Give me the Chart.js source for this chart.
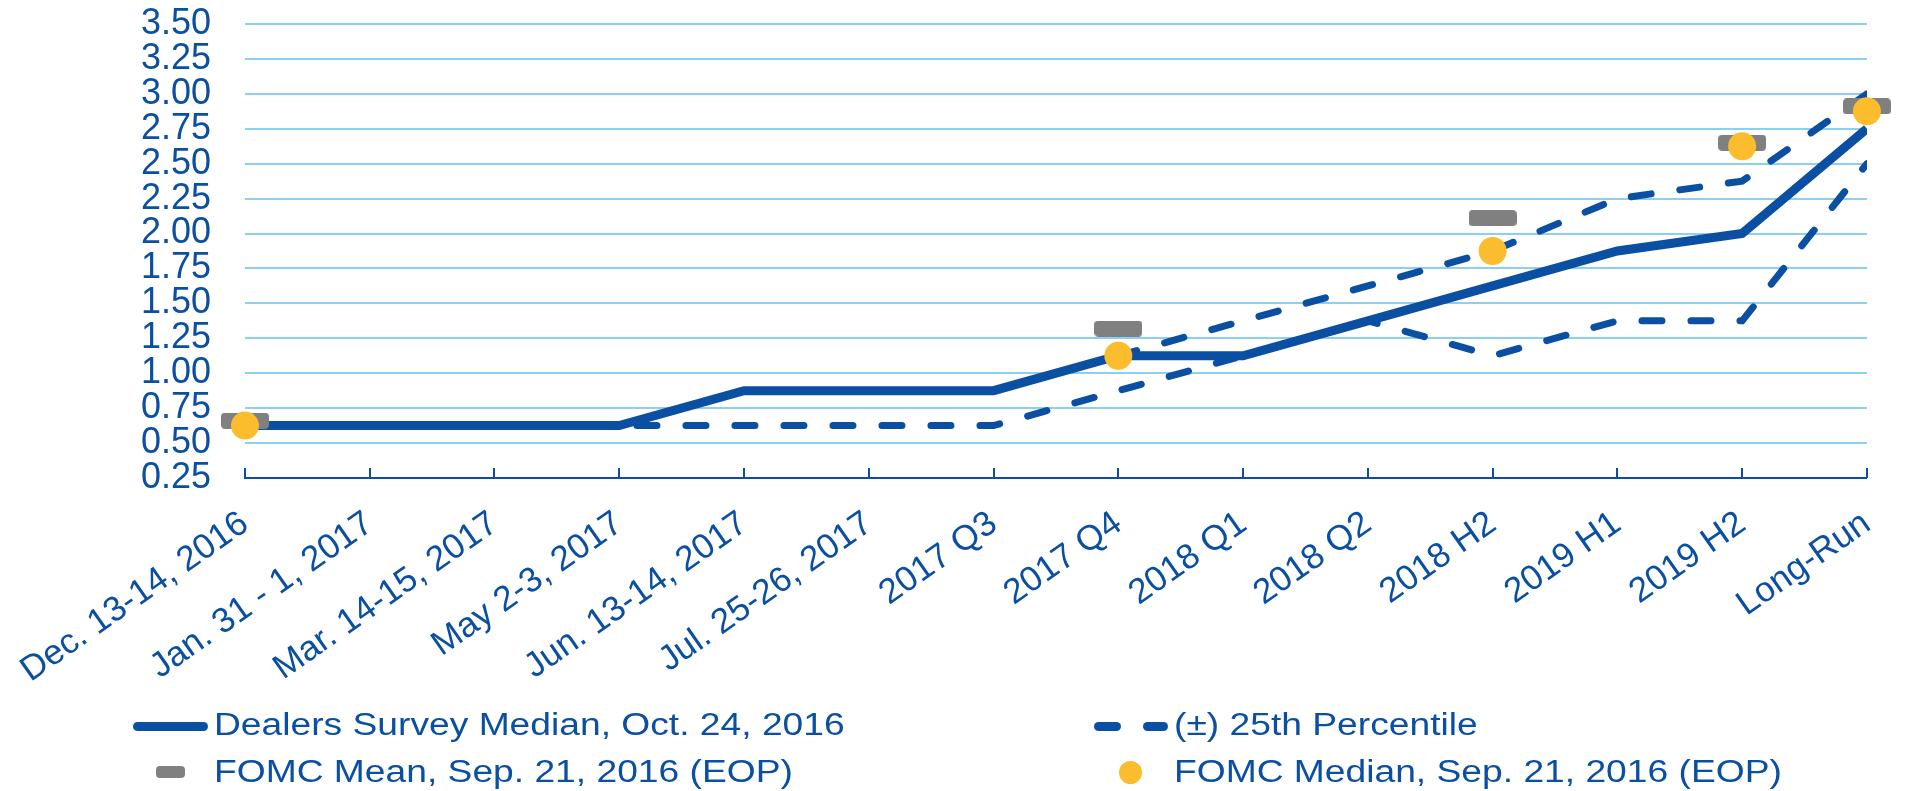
<!DOCTYPE html>
<html><head><meta charset="utf-8">
<script src="https://cdn.jsdelivr.net/npm/chart.js@4.4.0/dist/chart.umd.min.js"></script>
<style>
html,body{margin:0;padding:0;background:#fff;}
#wrap{position:relative;width:1916px;height:791px;overflow:hidden;background:#fff;}
#c{position:absolute;left:0;top:0;}
.lg{position:absolute;font-family:'Liberation Sans',Arial,sans-serif;font-size:31px;line-height:31px;color:#0B4FA2;white-space:nowrap;transform:scaleX(1.2);transform-origin:0 0;}
.sym{position:absolute;}
</style></head><body>
<div id="wrap">
<canvas id="c" width="1916" height="791"></canvas>
<div class="sym" style="left:133px;top:722px;width:75px;height:9px;border-radius:5px;background:#0B4FA2"></div>
<span class="lg" style="left:214px;top:709px">Dealers Survey Median, Oct. 24, 2016</span>
<div class="sym" style="left:1094px;top:722px;width:27px;height:9px;border-radius:5px;background:#0B4FA2"></div>
<div class="sym" style="left:1143px;top:722px;width:25px;height:9px;border-radius:5px;background:#0B4FA2"></div>
<span class="lg" style="left:1174px;top:709px">(±) 25th Percentile</span>
<div class="sym" style="left:156px;top:766px;width:29px;height:12px;border-radius:4px;background:#808080"></div>
<span class="lg" style="left:214px;top:756px">FOMC Mean, Sep. 21, 2016 (EOP)</span>
<div class="sym" style="left:1119px;top:761px;width:23px;height:23px;border-radius:50%;background:#FBBC2D"></div>
<span class="lg" style="left:1174px;top:756px">FOMC Median, Sep. 21, 2016 (EOP)</span>
</div>
<script>
const categories = ['Dec. 13-14, 2016','Jan. 31 - 1, 2017','Mar. 14-15, 2017','May 2-3, 2017','Jun. 13-14, 2017','Jul. 25-26, 2017','2017 Q3','2017 Q4','2018 Q1','2018 Q2','2018 H2','2019 H1','2019 H2','Long-Run'];
const dealersMedian = [0.625,0.625,0.625,0.625,0.875,0.875,0.875,1.125,1.125,1.375,1.625,1.875,2.0,2.75];
const upper25 = [0.625,0.625,0.625,0.625,0.875,0.875,0.875,1.125,1.375,1.625,1.875,2.25,2.375,3.0];
const lower25 = [0.625,0.625,0.625,0.625,0.625,0.625,0.625,0.875,1.125,1.375,1.125,1.375,1.375,2.5];
const fomcMean = [0.66,null,null,null,null,null,null,1.32,null,null,2.11,null,2.65,2.91];
const fomcMedian = [0.625,null,null,null,null,null,null,1.125,null,null,1.875,null,2.625,2.875];
const yMin = 0.25, yMax = 3.5, yStep = 0.25;

const BLUE = '#0B4FA2', GRID = '#8DCFF0', YELLOW = '#FBBC2D', GRAY = '#808080';
const FONT = "'Liberation Sans', Arial, sans-serif";

function rectMarker(){
  const c = document.createElement('canvas');
  c.width = 48; c.height = 16;
  const x = c.getContext('2d');
  x.fillStyle = GRAY;
  x.beginPath();
  if (x.roundRect) x.roundRect(0,0,48,16,4); else x.rect(0,0,48,16);
  x.fill();
  return c;
}

const upTicks = {
  id: 'upTicks',
  afterDraw(chart){
    const s = chart.scales.x, ctx = chart.ctx;
    const y = chart.chartArea.bottom;
    ctx.save();
    ctx.strokeStyle = BLUE; ctx.lineWidth = 2;
    ctx.beginPath();
    for (let i = 0; i < s.ticks.length; i++){
      const px = Math.round(s.getPixelForTick(i));
      ctx.moveTo(px, y); ctx.lineTo(px, y - 10);
    }
    ctx.stroke();
    ctx.restore();
  }
};

new Chart(document.getElementById('c'), {
  type: 'line',
  data: {
    labels: categories,
    datasets: [
      {label:'FOMC Median, Sep. 21, 2016 (EOP)', data: fomcMedian, showLine:false, pointRadius:14, pointHoverRadius:14, pointBackgroundColor:YELLOW, pointBorderWidth:0, clip:false},
      {label:'FOMC Mean, Sep. 21, 2016 (EOP)', data: fomcMean, showLine:false, pointStyle: rectMarker(), pointRadius:8, pointHoverRadius:8, pointBorderWidth:0, clip:false},
      {label:'Dealers Survey Median, Oct. 24, 2016', data: dealersMedian, borderColor:BLUE, borderWidth:9, pointRadius:0, tension:0, fill:false, clip:0},
      {label:'(±) 25th Percentile', data: upper25, borderColor:BLUE, borderWidth:7, borderDash:[20,29], borderCapStyle:'round', pointRadius:0, tension:0, fill:false, clip:0},
      {label:'(±) 25th Percentile low', data: lower25, borderColor:BLUE, borderWidth:7, borderDash:[20,29], borderCapStyle:'round', pointRadius:0, tension:0, fill:false, clip:0}
    ]
  },
  options: {
    responsive:false, animation:false, devicePixelRatio:1,
    layout:{padding:{top:24, right:34, bottom:93, left:0}},
    plugins:{legend:{display:false}, tooltip:{enabled:false}},
    events:[],
    scales:{
      x:{
        type:'category', offset:false,
        grid:{display:false, drawTicks:false},
        border:{display:true, color:BLUE, width:2},
        ticks:{autoSkip:false, minRotation:35, maxRotation:35, padding:25, labelOffset:0, color:BLUE, font:{family:FONT, size:35}},
        afterFit(s){ s.height = 220; }
      },
      y:{
        min:yMin, max:yMax,
        grid:{drawTicks:false, lineWidth:2, color:(c)=> (c.tick && Math.abs(c.tick.value - yMin) < 1e-6) ? 'rgba(0,0,0,0)' : GRID},
        border:{display:false},
        ticks:{autoSkip:false, stepSize:yStep, padding:34, color:BLUE, font:{family:FONT, size:36}, callback:(v)=>Number(v).toFixed(2)},
        afterFit(s){ s.width = 243; s.paddingTop = 0; s.paddingBottom = 0; }
      }
    }
  },
  plugins:[upTicks]
});
</script>
</body></html>
